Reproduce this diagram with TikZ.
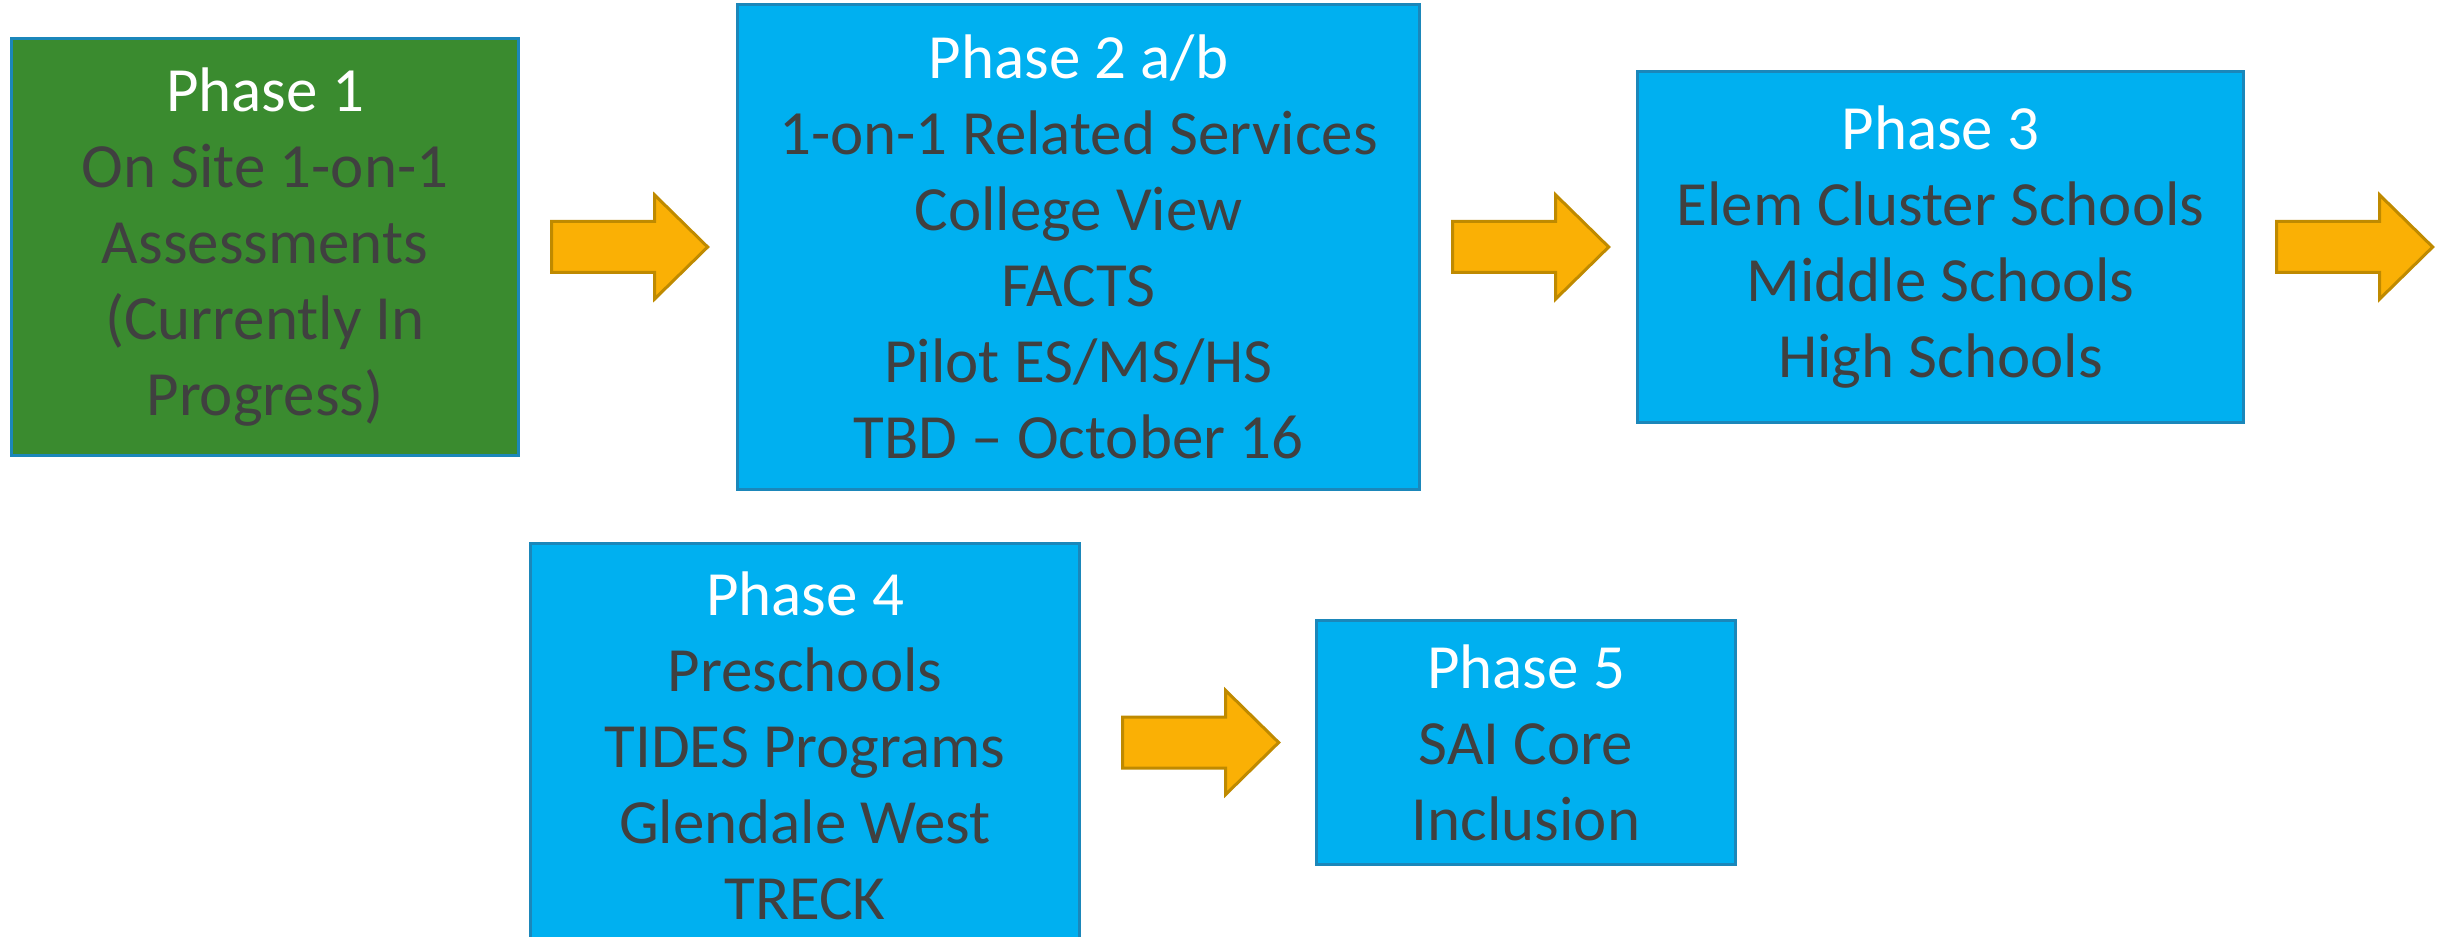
\documentclass[tikz,border=0pt]{standalone}
\usepackage{fontspec}
\setmainfont{Carlito}
\usetikzlibrary{calc}

\definecolor{phasegreen}{HTML}{3A8B2F}
\definecolor{phaseblue}{HTML}{00B0F0}
\definecolor{phaseedge}{HTML}{1B87BA}
\definecolor{phasetext}{HTML}{404040}
\definecolor{arrowfill}{HTML}{FAB005}
\definecolor{arrowedge}{HTML}{BF8A00}

\newcommand{\phasetitle}[1]{\textcolor{white}{#1}}

\tikzset{
	phase/.style={draw=phaseedge, line width=0.03cm, fill=phaseblue, text=phasetext, align=center, inner sep=0pt, font=\fontsize{17.9}{21.6}\selectfont},
	blockarrow/.style={draw=arrowedge, line width=0.03cm, fill=arrowfill, line join=miter}
}

\begin{document}
\begin{tikzpicture}[x=0.01cm, y=0.01cm]
	\useasboundingbox (0,0) rectangle (2446,936);

	\node[phase, fill=phasegreen, minimum width=5.06cm, minimum height=4.16cm] (p1) at (265,689)
		{\phasetitle{Phase 1}\\On Site 1-on-1\\Assessments\\(Currently In\\Progress)};
	\node[phase, minimum width=6.81cm, minimum height=4.84cm] (p2) at (1078.5,689)
		{\phasetitle{Phase 2 a/b}\\1-on-1 Related Services\\College View\\FACTS\\Pilot ES/MS/HS\\TBD – October 16};
	\node[phase, minimum width=6.05cm, minimum height=3.50cm] (p3) at (1940.5,689)
		{\phasetitle{Phase 3}\\Elem Cluster Schools\\Middle Schools\\High Schools};
	\node[phase, minimum width=5.48cm, minimum height=4.04cm] (p4) at (805,190)
		{\phasetitle{Phase 4}\\Preschools\\TIDES Programs\\Glendale West\\TRECK};
	\node[phase, minimum width=4.18cm, minimum height=2.43cm] (p5) at (1526,193.5)
		{\phasetitle{Phase 5}\\SAI Core\\Inclusion};

	% block arrows after each phase
	\foreach \b/\g/\dy in {p1/32/0, p2/32/0, p3/32/0, p4/42/3.5}{
	\draw[blockarrow] ($(\b.east)+(\g,25.5+\dy)$) -- ++(103,0) -- ++(0,26.5) -- ++(53,-52) -- ++(-53,-52) -- ++(0,26.5) -- ++(-103,0) -- cycle;
	}
\end{tikzpicture}
\end{document}
